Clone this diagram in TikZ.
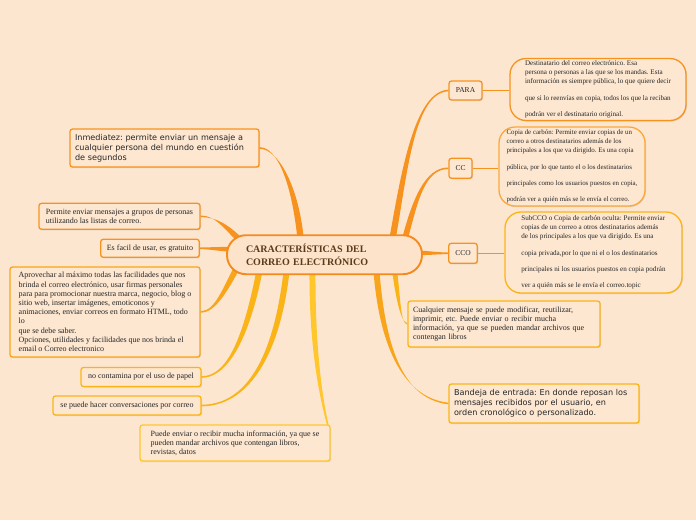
\documentclass[tikz,border=0pt]{standalone}
\usepackage{fontspec}
\setmainfont{Liberation Serif}
\newfontfamily\vsans{DejaVu Sans}
\usetikzlibrary{calc,shadows}
\pgfdeclarelayer{back}
\pgfdeclarelayer{bg}
\pgfsetlayers{back,bg,main}
\definecolor{bgc}{HTML}{FDE6CF}
\definecolor{boxc}{HTML}{FDE7D1}
\definecolor{oA}{HTML}{F7921E}
\definecolor{oB}{HTML}{F9A51B}
\definecolor{oC}{HTML}{FAA83A}
\definecolor{yA}{HTML}{FBB417}
\definecolor{yB}{HTML}{FFC72C}
\definecolor{cbord}{HTML}{F58A1F}
\definecolor{cfill}{HTML}{FCE3CA}
\definecolor{ctext}{HTML}{5C3A1A}
\definecolor{txt}{HTML}{262626}
\newcommand\branch[7]{%
  \fill[#1] ($#2+#6$) .. controls ($#3+#6$) and ($#4+#7$) .. ($#5+#7$)
    -- ($#5-#7$) .. controls ($#4-#7$) and ($#3-#6$) .. ($#2-#6$) -- cycle;}
\begin{document}
\frenchspacing
\begin{tikzpicture}[x=1pt,y=-1pt,
  box/.style={draw, line width=1.3pt, fill=boxc, rounded corners=2.5pt, inner ysep=0pt, text=txt,
    drop shadow={shadow xshift=1pt, shadow yshift=-1pt, opacity=0.22}},
  serifM/.style={font=\fontsize{8}{9.2}\selectfont, align=left, inner xsep=0pt},
  sansM/.style={font=\vsans\fontsize{8.1}{9.9}\selectfont, align=left, inner xsep=0pt},
  smalltxt/.style={font=\fontsize{7.1}{9}\selectfont, align=left, inner sep=0pt},
  lbl/.style={box, font=\fontsize{7.5}{9}\selectfont, inner xsep=0pt},
  link/.style={draw=oA, line width=1.2pt},
]
\useasboundingbox (0,0) rectangle (696,520);
\begin{pgfonlayer}{back}
\fill[bgc] (0,0) rectangle (696,520);
\end{pgfonlayer}

% central topic
\node[draw=cbord, line width=1.9pt, fill=cfill, rounded corners=19pt, minimum width=195, minimum height=39,
  text width=157, inner xsep=19, inner ysep=0, align=left, text=ctext,
  font=\bfseries\fontsize{10}{13}\selectfont] (c) at (324.5,254.7) {CARACTERÍSTICAS DEL\\CORREO ELECTRÓNICO};

% right side
\node[lbl, draw=oA, minimum width=33, minimum height=19] (para) at (465.5,90.5) {PARA};
\node[lbl, draw=oA, minimum width=23, minimum height=20] (cc) at (460.5,168.3) {CC};
\node[lbl, draw=oA, minimum width=28.5, minimum height=20] (cco) at (463,253.3) {CCO};

\node[box, smalltxt, draw=oA, rounded corners=16pt, minimum width=176, minimum height=62] (paraT) at (598,89.5)
 {Destinatario del correo electrónico. Esa\\persona o personas a las que se los mandas. Esta\\información es siempre pública, lo que quiere decir\\[7.3pt]que si lo reenvías en copia, todos los que la reciban\\[7.3pt]podrán ver el destinatario original.};
\node[box, smalltxt, draw=oC, rounded corners=16pt, minimum width=146, minimum height=79,
  font=\fontsize{6.9}{9}\selectfont] (ccT) at (572,166.5)
 {Copia de carbón: Permite enviar copias de un\\correo a otros destinatarios además de los\\principales a los que va dirigido. Es una copia\\[7.3pt]pública, por lo que tanto el o los destinatarios\\[7.3pt]principales como los usuarios puestos en copia,\\[7.3pt]podrán ver a quién más se le envía el correo.};
\node[box, smalltxt, draw=yA, rounded corners=16pt, minimum width=177, minimum height=81] (ccoT) at (593.5,252.5)
 {SubCCO o Copia de carbón oculta: Permite enviar\\copias de un correo a otros destinatarios además\\de los principales a los que va dirigido. Es una\\[7.3pt]copia privada,por lo que ni el o los destinatarios\\[7.3pt]principales ni los usuarios puestos en copia podrán\\[7.3pt]ver a quién más se le envía el correo.topic};

\draw[link] (para.east) -- (para.east -| paraT.west);
\draw[link] (cc.east) -- (cc.east -| ccT.west);
\draw[link] (cco.east) -- (cco.east -| ccoT.west);

\node[box, serifM, draw=yA, minimum width=192, minimum height=46, text width=182, inner xsep=5] (cual) at (504,324)
 {Cualquier mensaje se puede modificar, reutilizar,\\imprimir, etc. Puede enviar o recibir mucha\\información, ya que se pueden mandar archivos que\\contengan libros};
\node[box, sansM, draw=yA, minimum width=190, minimum height=39, text width=180, inner xsep=5] (band) at (544,403.5)
 {Bandeja de entrada: En donde reposan los\\mensajes recibidos por el usuario, en\\orden cronológico o personalizado.};

% left side
\node[box, sansM, draw=oA, minimum width=189, minimum height=38, text width=179, inner xsep=5] (inm) at (164.5,148)
 {Inmediatez: permite enviar un mensaje a\\cualquier persona del mundo en cuestión\\de segundos};
\node[box, serifM, draw=oA, minimum width=161, minimum height=26] (perm) at (119.5,216.3)
 {Permite enviar mensajes a grupos de personas\\utilizando las listas de correo.};
\node[box, serifM, draw=oA, minimum width=98.6, minimum height=18] (facil) at (150,248.3)
 {Es facil de usar, es gratuito};
\node[box, serifM, draw=oB, minimum width=190, minimum height=90] (aprov) at (105,312)
 {Aprovechar al máximo todas las facilidades que nos\\brinda el correo electrónico, usar firmas personales\\para para promocionar nuestra marca, negocio, blog o\\sitio web, insertar imágenes, emoticonos y\\animaciones, enviar correos en formato HTML, todo\\lo\\que se debe saber.\\Opciones, utilidades y facilidades que nos brinda el\\email o Correo electronico};
\node[box, serifM, draw=yA, minimum width=120, minimum height=19] (noc) at (141,377)
 {no contamina por el uso de papel};
\node[box, serifM, draw=yA, minimum width=148, minimum height=19] (conv) at (127,405.5)
 {se puede hacer conversaciones por correo};
\node[box, serifM, draw=yB, minimum width=190, minimum height=36] (puede) at (235,443)
 {Puede enviar o recibir mucha información, ya que se\\pueden mandar archivos que contengan libros,\\revistas, datos};

% branch start points (inside the central topic)
\coordinate (sPara) at ($(c.center)+(68,-16)$);
\coordinate (sCC) at ($(c.center)+(80,-14)$);
\coordinate (sCCO) at ($(c.center)+(88,-2)$);
\coordinate (sCual) at ($(c.center)+(70,16)$);
\coordinate (sBand) at ($(c.center)+(52,17)$);
\coordinate (sInm) at ($(c.center)+(-24,-17)$);
\coordinate (sPerm) at ($(c.center)+(-82,-12)$);
\coordinate (sFacil) at ($(c.center)+(-88,-5)$);
\coordinate (sAprov) at ($(c.center)+(-86,10)$);
\coordinate (sNoc) at ($(c.center)+(-65,16)$);
\coordinate (sConv) at ($(c.center)+(-38,17)$);
\coordinate (sPuede) at ($(c.center)+(-12,17)$);

\begin{pgfonlayer}{bg}
\branch{oA}{(sPara)}{(404,175)}{(414,92)}{(para.west)}{(3.2,0)}{(0,0.8)}
\branch{oA}{(sCC)}{(415,200)}{(425,168)}{(cc.west)}{(3,0)}{(0,0.8)}
\branch{oA}{(sCCO)}{(425,253)}{(438,253.3)}{(cco.west)}{(0,2.5)}{(0,0.8)}
\branch{yA}{(sCual)}{(398,295)}{(400,322)}{(cual.west)}{(2.5,0)}{(0,0.8)}
\branch{oB}{(sBand)}{(382,340)}{(400,398)}{(band.west)}{(3,0)}{(0,0.8)}
\branch{oA}{(sInm)}{(295,185)}{(278,148)}{(inm.east)}{(3.2,0)}{(0,0.8)}
\branch{oA}{(sPerm)}{(225,225)}{(215,216.3)}{(perm.east)}{(2.1,-2.1)}{(0,0.8)}
\branch{oA}{(sFacil)}{(220,249)}{(210,248.3)}{(facil.east)}{(0,2.5)}{(0,0.8)}
\branch{oB}{(sAprov)}{(225,290)}{(215,312)}{(aprov.east)}{(2.6,1.4)}{(0,0.8)}
\branch{yA}{(sNoc)}{(245,345)}{(225,377)}{(noc.east)}{(3,0.5)}{(0,0.8)}
\branch{yA}{(sConv)}{(275,370)}{(240,405.5)}{(conv.east)}{(3,0.3)}{(0,0.8)}
\branch{yB}{(sPuede)}{(312,360)}{(324,410)}{($(puede.north east)+(-2,4)$)}{(3,0)}{(0.8,0)}
\end{pgfonlayer}
\end{tikzpicture}
\end{document}
